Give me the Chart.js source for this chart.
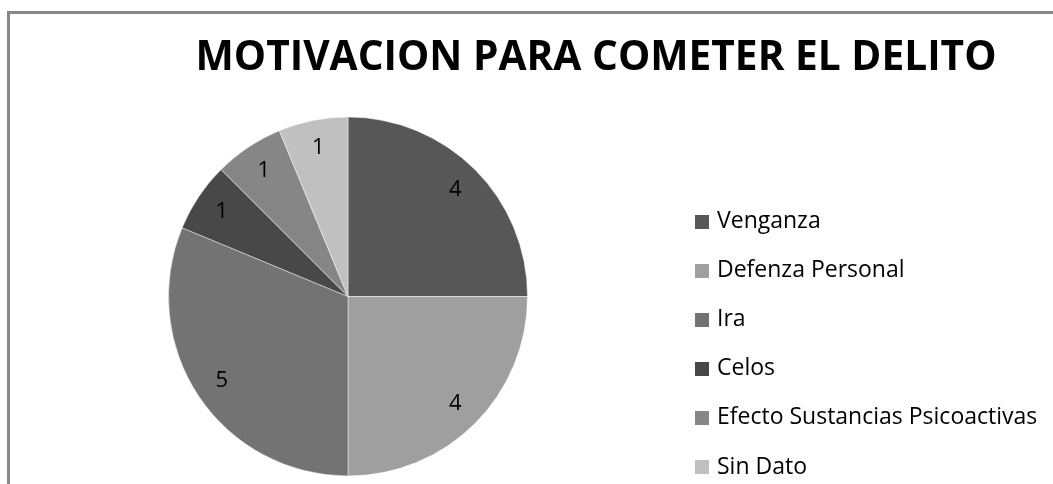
<!DOCTYPE html>
<html>
<head>
<meta charset="utf-8">
<script src="https://cdn.jsdelivr.net/npm/chart.js@4/dist/chart.umd.min.js"></script>
<style>
  html, body { margin: 0; padding: 0; background: #fff; }
  #wrap { position: relative; width: 1053px; height: 484px; overflow: hidden; }
  #frame { position: absolute; left: 7px; top: 11px; width: 1060px; height: 500px;
           border-left: 3px solid #878787; border-top: 3px solid #878787; box-sizing: border-box; }
  canvas { position: absolute; left: 0; top: 0; }
</style>
</head>
<body>
<div id="wrap">
  <div id="frame"></div>
  <canvas id="c" width="1053" height="484"></canvas>
</div>
<script>
const chartTitle = "MOTIVACION PARA COMETER EL DELITO";
const categories = ["Venganza", "Defenza Personal", "Ira", "Celos", "Efecto Sustancias Psicoactivas", "Sin Dato"];
const values = [4, 4, 5, 1, 1, 1];
const colors = ["#575757", "#9f9f9f", "#737373", "#484848", "#868686", "#c0c0c0"];

const overlay = {
  id: 'overlay',
  afterDatasetsDraw(chart) {
    const ctx = chart.ctx;
    const meta = chart.getDatasetMeta(0);
    ctx.save();
    // value labels inside slices
    ctx.fillStyle = '#000';
    ctx.font = '22px "Open Sans"';
    ctx.textAlign = 'center';
    ctx.textBaseline = 'middle';
    meta.data.forEach((arc, i) => {
      const p = arc.getProps(['x', 'y', 'startAngle', 'endAngle', 'outerRadius'], true);
      const mid = (p.startAngle + p.endAngle) / 2;
      const r = p.outerRadius * 0.845;
      ctx.fillText(String(chart.data.datasets[0].data[i]), p.x + Math.cos(mid) * r, p.y + Math.sin(mid) * r);
    });
    // title
    ctx.font = 'bold 42px "Open Sans"';
    ctx.textAlign = 'left';
    ctx.textBaseline = 'alphabetic';
    const w = ctx.measureText(chartTitle).width;
    const target = 801;
    ctx.save();
    ctx.translate(596 - target / 2, 70);
    ctx.scale(target / w, 1);
    ctx.fillText(chartTitle, 0, 0);
    ctx.restore();
    // legend
    ctx.font = '23px "Open Sans"';
    ctx.textBaseline = 'middle';
    categories.forEach((label, i) => {
      const y = 221.5 + i * 49.1;
      ctx.fillStyle = colors[i];
      ctx.fillRect(695, Math.round(y - 7), 14, 14);
      ctx.fillStyle = '#000';
      ctx.fillText(label, 717, y);
    });
    ctx.restore();
  }
};

new Chart(document.getElementById('c'), {
  type: 'pie',
  data: {
    labels: categories,
    datasets: [{
      data: values,
      backgroundColor: colors,
      borderColor: 'rgba(255,255,255,0.45)',
      borderWidth: 1
    }]
  },
  options: {
    responsive: false,
    animation: false,
    devicePixelRatio: 1,
    layout: { padding: { top: 116, bottom: 7, left: 168, right: 525 } },
    plugins: {
      legend: { display: false },
      title: { display: false },
      tooltip: { enabled: false }
    }
  },
  plugins: [overlay]
});
</script>
</body>
</html>
